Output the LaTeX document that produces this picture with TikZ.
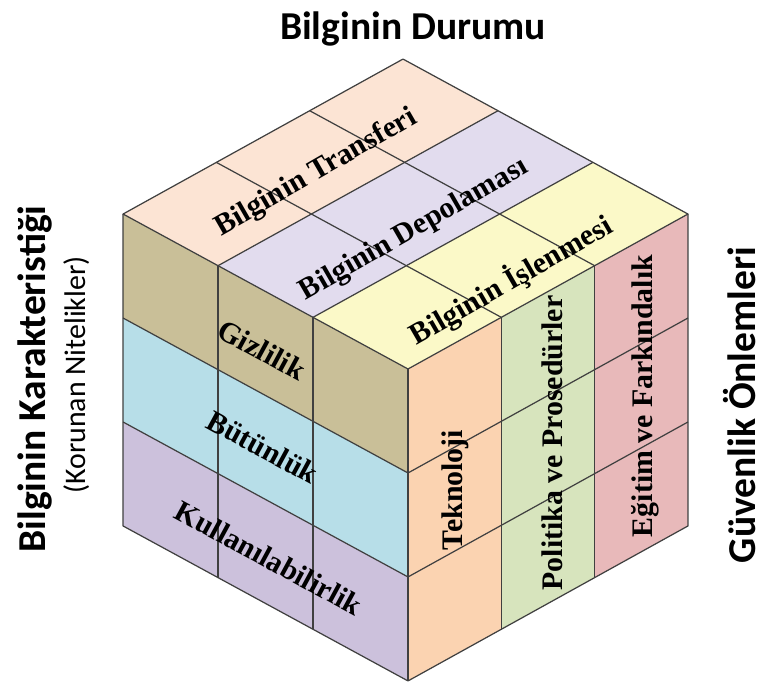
\documentclass[tikz,border=0pt]{standalone}
\usepackage{fontspec}
\setmainfont{Liberation Serif}
\newfontfamily\headfont{Carlito}
\usepackage{tikz}

\definecolor{peachT}{HTML}{FCE4D4}
\definecolor{lavT}{HTML}{E2DCEE}
\definecolor{yelT}{HTML}{FBF9C8}
\definecolor{tanL}{HTML}{C9BF98}
\definecolor{bluL}{HTML}{B7DEE8}
\definecolor{purL}{HTML}{CCC1DC}
\definecolor{orgR}{HTML}{FBD3B1}
\definecolor{grnR}{HTML}{D7E4BD}
\definecolor{pnkR}{HTML}{E8B9BA}

\begin{document}
\begin{tikzpicture}[x=0.02cm, y=-0.02cm,
    cell/.style={draw=black!75, line width=0.7pt, line join=round},
    lbl/.style={font=\bfseries\fontsize{17}{17}\selectfont, inner sep=0pt},
    axis/.style={font=\headfont\bfseries\fontsize{22.5}{22.5}\selectfont, inner sep=0pt},
    subaxis/.style={font=\headfont\fontsize{17}{17}\selectfont, inner sep=0pt}]
    \useasboundingbox (0,0) rectangle (764,682);

    % the cube, front corner at the origin of the scope
    \begin{scope}[shift={(408,369)}, x={(-5.70cm,3.10cm)}, y={(5.60cm,3.10cm)}, z={(0cm,-6.24cm)}]
      % top face
      \foreach \u/\c in {0/yelT,1/lavT,2/peachT}
        \fill[\c] (\u/3,0,0) -- ({(\u+1)/3},0,0) -- ({(\u+1)/3},1,0) -- (\u/3,1,0) -- cycle;
      % left face
      \foreach \w/\c in {0/tanL,1/bluL,2/purL}
        \fill[\c] (0,0,\w/3) -- (1,0,\w/3) -- (1,0,{(\w+1)/3}) -- (0,0,{(\w+1)/3}) -- cycle;
      % right face
      \foreach \v/\c in {0/orgR,1/grnR,2/pnkR}
        \fill[\c] (0,\v/3,0) -- (0,{(\v+1)/3},0) -- (0,{(\v+1)/3},1) -- (0,\v/3,1) -- cycle;
      % grid
      \foreach \t in {1,2} {
        \draw[cell] (\t/3,0,0) -- (\t/3,1,0);
        \draw[cell] (0,\t/3,0) -- (1,\t/3,0);
        \draw[cell] (\t/3,0,0) -- (\t/3,0,1);
        \draw[cell] (0,0,\t/3) -- (1,0,\t/3);
        \draw[cell] (0,\t/3,0) -- (0,\t/3,1);
        \draw[cell] (0,0,\t/3) -- (0,1,\t/3);
      }
      % outline
      \draw[cell] (0,0,0) -- (1,0,0) -- (1,1,0) -- (0,1,0) -- cycle;
      \draw[cell] (1,0,0) -- (1,0,1) -- (0,0,1) -- (0,1,1) -- (0,1,0);
      \draw[cell] (0,0,0) -- (0,0,1);
    \end{scope}

    % top face labels
    \node[lbl, rotate=30] (transfer) at (316,173) {Bilginin Transferi};
    \node[lbl, rotate=30] (depo) at (414,230) {Bilginin Depolaması};
    \node[lbl, rotate=30] (isleme) at (511,280) {Bilginin İşlenmesi};

    % left face labels
    \node[lbl, rotate=-28.5] (gizli) at (262,350) {Gizlilik};
    \node[lbl, rotate=-28.5] (butun) at (263,447) {Bütünlük};
    \node[lbl, rotate=-28.5] (kullan) at (269,558) {Kullanılabilirlik};

    % right face labels
    \node[lbl, rotate=90] (tekno) at (455,490) {Teknoloji};
    \node[lbl, rotate=90] (politika) at (552,443) {Politika ve Prosedürler};
    \node[lbl, rotate=90] (egitim) at (645,396) {Eğitim ve Farkındalık};

    % axis titles
    \node[axis, anchor=base] (durum) at (413,40) {Bilginin Durumu};
    \node[axis, rotate=90, anchor=base] (karakter) at (45,379) {Bilginin Karakteristiği};
    \node[subaxis, rotate=90, anchor=base] (nitelik) at (85,375) {(Korunan Nitelikler)};
    \node[axis, rotate=90, anchor=base] (onlem) at (755,405) {Güvenlik Önlemleri};
\end{tikzpicture}
\end{document}
